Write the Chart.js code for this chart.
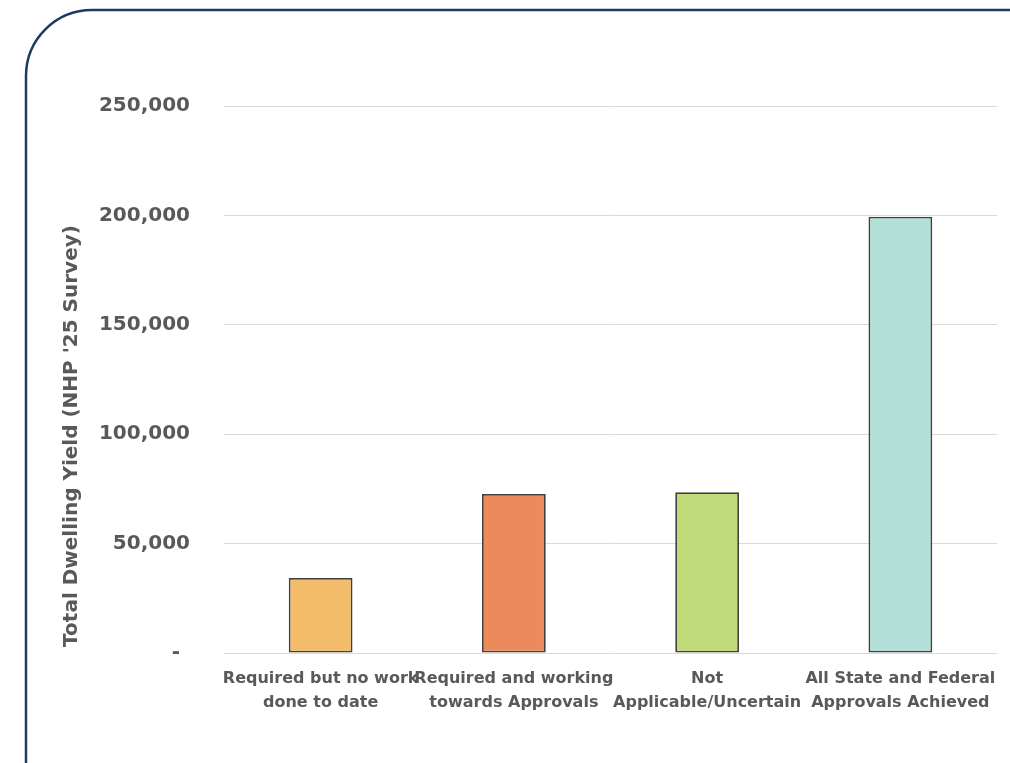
<!DOCTYPE html>
<html>
<head>
<meta charset="utf-8">
<title>Total Dwelling Yield by Approval Status</title>
<script src="https://cdn.jsdelivr.net/npm/chart.js@4"></script>
<style>
  html, body { margin: 0; padding: 0; background: #ffffff; }
  #wrap { position: relative; width: 1010px; height: 763px; }
</style>
</head>
<body>
<div id="wrap"><canvas id="chart" width="1010" height="763"></canvas></div>
<script>
// Approval status categories (two-line labels)
const categories = [
  ['Required but no work', 'done to date'],
  ['Required and working', 'towards Approvals'],
  ['Not', 'Applicable/Uncertain'],
  ['All State and Federal', 'Approvals Achieved']
];

// Total dwelling yield per category
const dwellingYield = [34300, 72700, 73500, 199400];

// Bar fill colours, one per category
const barColors = ['#F2BC6A', '#EB8B5C', '#BFDA78', '#B3DFD9'];

// Value axis
const yMin = 0;
const yMax = 250000;
const yStep = 50000;
const yTitle = "Total Dwelling Yield (NHP '25 Survey)";

const FONT = "'DejaVu Sans', sans-serif";
const TEXT = '#595959';

// Rounded navy frame behind the chart
const framePlugin = {
  id: 'frame',
  beforeDraw(chart) {
    const ctx = chart.ctx;
    ctx.save();
    ctx.fillStyle = '#ffffff';
    ctx.fillRect(0, 0, chart.width, chart.height);
    ctx.beginPath();
    ctx.roundRect(26, 10, 1200, 900, 66);
    ctx.lineWidth = 2.5;
    ctx.strokeStyle = '#1F3864';
    ctx.stroke();
    ctx.restore();
  }
};

// Rotated value-axis title
const yTitlePlugin = {
  id: 'yTitle',
  afterDraw(chart) {
    const ctx = chart.ctx;
    ctx.save();
    ctx.translate(72, 436);
    ctx.rotate(-Math.PI / 2);
    ctx.font = 'bold 20px ' + FONT;
    ctx.fillStyle = TEXT;
    ctx.textAlign = 'center';
    ctx.textBaseline = 'middle';
    ctx.fillText(yTitle, 0, 0);
    ctx.restore();
  }
};

new Chart(document.getElementById('chart'), {
  type: 'bar',
  data: {
    labels: categories,
    datasets: [{
      data: dwellingYield,
      backgroundColor: barColors,
      borderColor: '#404040',
      borderWidth: 1.8,
      borderSkipped: false,
      categoryPercentage: 1.0,
      barPercentage: 0.33
    }]
  },
  options: {
    responsive: false,
    animation: false,
    devicePixelRatio: 1,
    layout: { padding: { left: 98, right: 13, top: 106, bottom: 0 } },
    plugins: {
      legend: { display: false },
      tooltip: { enabled: false }
    },
    scales: {
      x: {
        grid: { display: false, drawTicks: false },
        border: { display: false },
        ticks: {
          color: TEXT,
          font: { family: FONT, size: 16, weight: 'bold', lineHeight: 1.5 },
          padding: 14,
          maxRotation: 0,
          autoSkip: false
        },
        afterFit(scale) {
          // category labels may overhang the plot edges
          scale.height = 110;
          scale.paddingLeft = 0;
          scale.paddingRight = 0;
        }
      },
      y: {
        min: yMin,
        max: yMax,
        grid: { color: '#D9D9D9', lineWidth: 1, drawTicks: false },
        border: { display: false },
        ticks: {
          stepSize: yStep,
          color: TEXT,
          font: { family: FONT, size: 20, weight: 'bold' },
          padding: 34,
          callback: (v) => v === 0 ? '-\u2002' : v.toLocaleString('en-US')
        },
        afterFit(scale) { scale.width = 126; }
      }
    }
  },
  plugins: [framePlugin, yTitlePlugin]
});
</script>
</body>
</html>
